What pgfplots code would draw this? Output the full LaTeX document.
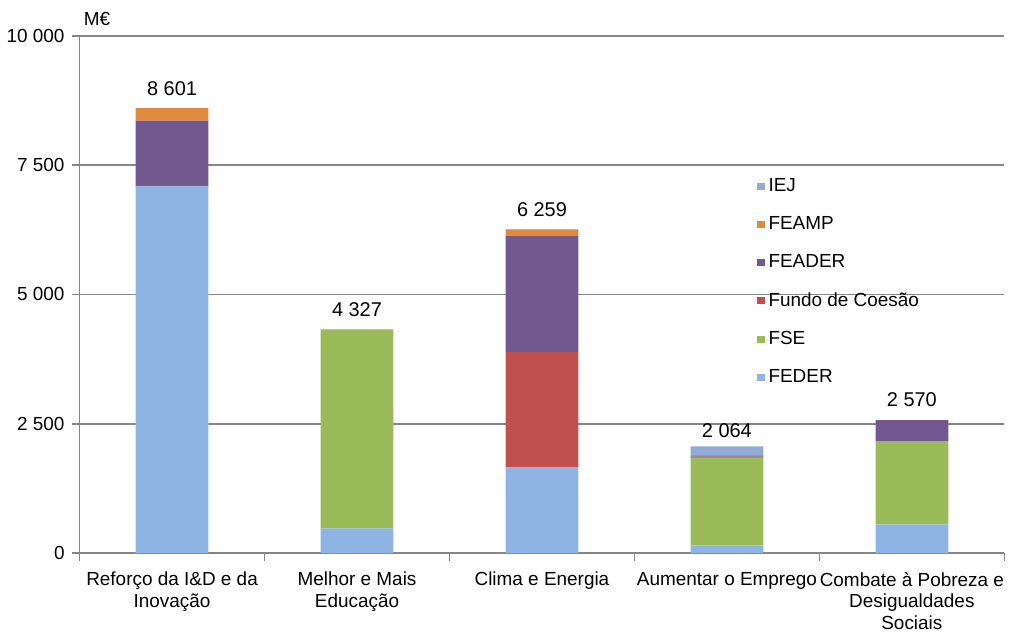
\documentclass[border=0pt]{standalone}
\usepackage{fontspec}
\setmainfont{Liberation Sans}
\usepackage{pgfplots}
\pgfplotsset{compat=1.18}

\definecolor{cFEDER}{HTML}{8EB4E3}
\definecolor{cFSE}{HTML}{9BBB59}
\definecolor{cCoesao}{HTML}{C0504D}
\definecolor{cFEADER}{HTML}{71588F}
\definecolor{cFEAMP}{HTML}{E08A3E}
\definecolor{cIEJ}{HTML}{93AAD3}
\definecolor{axgray}{HTML}{868686}

\begin{document}
\begin{tikzpicture}
\begin{axis}[
    scale only axis,
    width=464pt, height=259.5pt,
    clip=false,
    ybar stacked,
    bar width=36.5pt,
    xmin=-0.5, xmax=4.5,
    ymin=0, ymax=10000,
    ytick={0,2500,5000,7500,10000},
    scaled y ticks=false,
    axis x line*=bottom,
    axis y line*=left,
    axis line style={axgray, line width=0.8pt},
    ymajorgrids,
    grid style={axgray, line width=0.8pt},
    tick style={axgray, line width=0.8pt},
    tick align=outside,
    major tick length=4pt,
    xtick={-0.5,0.5,...,4.5},
    xticklabels={},
    extra x ticks={0,1,2,3,4},
    extra x tick labels={Reforço da I\&D e da\\Inovação,Melhor e Mais\\Educação,Clima e Energia,Aumentar o Emprego,Combate à Pobreza e\\Desigualdades\\Sociais},
    extra x tick style={major tick length=0pt, grid=none},
    x tick label style={align=center, font=\fontsize{9.5}{11}\selectfont, yshift=-6pt},
    y tick label style={font=\fontsize{9.5}{11}\selectfont},
    /pgf/number format/assume math mode=true,
    /pgf/number format/1000 sep={\ },
    legend style={draw=none, fill=none, at={(0.726,0.74)}, anchor=north west,
        font=\fontsize{9.5}{11}\selectfont, row sep=7pt},
    legend cell align=left,
    reverse legend,
    legend image code/.code={\fill[#1] (-3pt,-1.8pt) rectangle (0.6pt,1.8pt);},
    every axis plot/.append style={draw=none},
]
\addplot[fill=cFEDER] coordinates {(0,7090) (1,480) (2,1660) (3,150) (4,553)};
\addlegendentry{FEDER}
\addplot[fill=cFSE] coordinates {(0,0) (1,3847) (2,0) (3,1690) (4,1611)};
\addlegendentry{FSE}
\addplot[fill=cCoesao] coordinates {(0,0) (1,0) (2,2230) (3,10) (4,0)};
\addlegendentry{Fundo de Coesão}
\addplot[fill=cFEADER] coordinates {(0,1270) (1,0) (2,2250) (3,20) (4,406)};
\addlegendentry{FEADER}
\addplot[fill=cFEAMP] coordinates {(0,241) (1,0) (2,119) (3,25) (4,0)};
\addlegendentry{FEAMP}
\addplot[fill=cIEJ, point meta=explicit symbolic,
    nodes near coords={\pgfplotspointmeta},
    nodes near coords style={font=\fontsize{10}{12}\selectfont, anchor=south, yshift=3pt, color=black}]
    coordinates {(0,0.01) [8 601] (1,0.01) [4 327] (2,0.01) [6 259] (3,169) [2 064] (4,0.01) [2 570]};
\addlegendentry{IEJ}
\node[anchor=south west, font=\fontsize{9.5}{11}\selectfont, inner sep=1pt, xshift=1pt, yshift=4pt] at (rel axis cs:0,1) {M€};
\path (rel axis cs:0,1) ++(0pt,18pt);
\end{axis}
\end{tikzpicture}
\end{document}
